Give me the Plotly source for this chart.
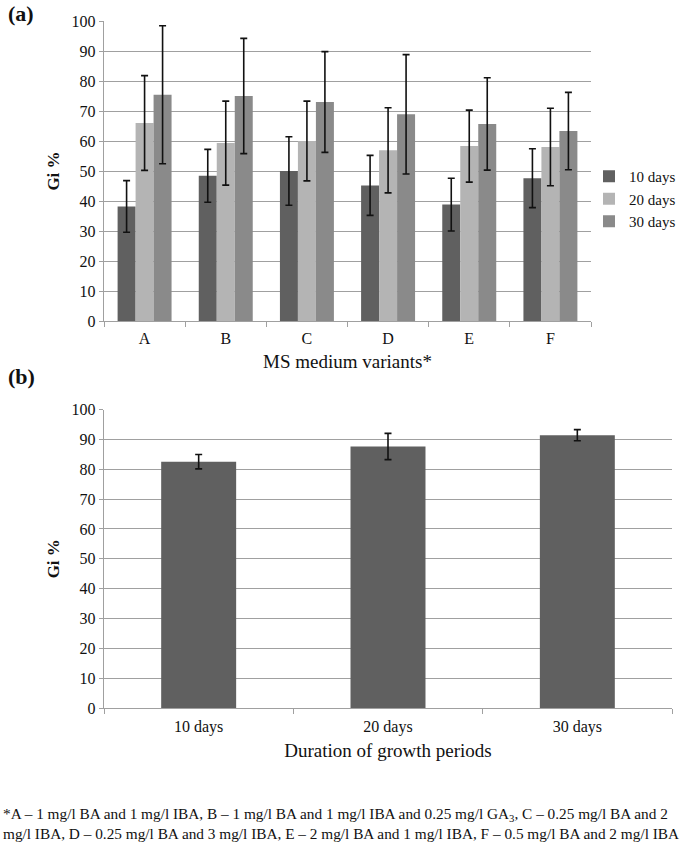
import plotly.graph_objects as go

# ---- data (panel a) ----
variants = ["A", "B", "C", "D", "E", "F"]
gi_10 = [38.2, 48.4, 50.0, 45.2, 38.8, 47.6]
err_10 = [8.6, 8.8, 11.4, 10.0, 8.8, 9.8]
gi_20 = [66.0, 59.3, 60.0, 56.9, 58.3, 58.0]
err_20 = [15.8, 14.0, 13.3, 14.2, 12.0, 12.9]
gi_30 = [75.4, 75.0, 73.0, 68.9, 65.7, 63.3]
err_30 = [23.0, 19.2, 16.8, 19.9, 15.4, 12.9]
series_names = ["10 days", "20 days", "30 days"]

# ---- data (panel b) ----
periods = ["10 days", "20 days", "30 days"]
gi_period = [82.5, 87.6, 91.4]
err_period = [2.4, 4.4, 1.85]

y_ticks = [0, 10, 20, 30, 40, 50, 60, 70, 80, 90, 100]

FONT = "Liberation Serif"
C10, C20, C30 = "#606060", "#b4b4b4", "#8a8a8a"
GRID = "#a0a0a0"

W, H = 685, 853
ML, MR, MT, MB = 104, 2, 21, 145
PW = W - ML - MR
PH = H - MT - MB


def px_x(x):
    return (x - ML) / PW


def px_y(y):
    return (H - MB - y) / PH


fig = go.Figure()

for name, vals, errs, col in [
    (series_names[0], gi_10, err_10, C10),
    (series_names[1], gi_20, err_20, C20),
    (series_names[2], gi_30, err_30, C30),
]:
    fig.add_trace(go.Bar(
        x=variants, y=vals, name=name, marker=dict(color=col, line=dict(width=0)),
        error_y=dict(type="data", array=errs, visible=True, color="#111111",
                     thickness=1.6, width=3.5),
        xaxis="x", yaxis="y",
    ))

fig.add_trace(go.Bar(
    x=periods, y=gi_period, name="Gi", showlegend=False, width=0.396,
    marker=dict(color=C10, line=dict(width=0)),
    error_y=dict(type="data", array=err_period, visible=True, color="#111111",
                 thickness=1.6, width=3.5),
    xaxis="x2", yaxis="y2",
))

axis_common = dict(showline=True, linecolor=GRID, linewidth=1.4,
                   tickfont=dict(family=FONT, size=16, color="#111111"))

fig.update_layout(
    width=W, height=H,
    margin=dict(l=ML, r=MR, t=MT, b=MB),
    paper_bgcolor="white", plot_bgcolor="white",
    font=dict(family=FONT, color="#111111"),
    barmode="group", bargap=0.335, bargroupgap=0,
    xaxis=dict(domain=[0, px_x(591)], anchor="y", ticks="outside",
               tickson="boundaries", ticklen=5, tickcolor=GRID, ticklabelstandoff=3,
               title=dict(text="MS medium variants*", font=dict(family=FONT, size=19),
                          standoff=8),
               **axis_common),
    yaxis=dict(domain=[px_y(321), 1], anchor="x", range=[0, 100],
               tickvals=y_ticks, ticks="outside", ticklen=4, tickcolor=GRID,
               showgrid=True, gridcolor=GRID, gridwidth=1.4, zeroline=False,
               title=dict(text="<b>Gi %</b>", font=dict(family=FONT, size=17),
                          standoff=7),
               **axis_common),
    xaxis2=dict(domain=[0, px_x(672)], anchor="y2", ticks="outside",
                tickson="boundaries", ticklen=5, tickcolor=GRID, ticklabelstandoff=4,
                title=dict(text="Duration of growth periods", font=dict(family=FONT, size=19),
                           standoff=8),
                **axis_common),
    yaxis2=dict(domain=[0, px_y(409.5)], anchor="x2", range=[0, 100],
                tickvals=y_ticks, ticks="outside", ticklen=4, tickcolor=GRID,
                showgrid=True, gridcolor=GRID, gridwidth=1.4, zeroline=False,
                title=dict(text="<b>Gi %</b>", font=dict(family=FONT, size=17),
                           standoff=7),
                **axis_common),
    legend=dict(x=px_x(589), y=px_y(199), xanchor="left", yanchor="middle",
                font=dict(family=FONT, size=15), bgcolor="rgba(0,0,0,0)",
                itemwidth=30, tracegroupgap=0),
    annotations=[
        dict(text="<b>(a)</b>", x=px_x(6), y=px_y(14), xref="paper", yref="paper",
             xanchor="left", yanchor="middle", showarrow=False,
             font=dict(family=FONT, size=22)),
        dict(text="<b>(b)</b>", x=px_x(6), y=px_y(377), xref="paper", yref="paper",
             xanchor="left", yanchor="middle", showarrow=False,
             font=dict(family=FONT, size=22)),
        dict(text="*A – 1 mg/l BA and 1 mg/l IBA, B – 1 mg/l BA and 1 mg/l IBA and 0.25 mg/l GA<sub>3</sub>, C – 0.25 mg/l BA and 2<br>"
                  "mg/l IBA, D – 0.25 mg/l BA and 3 mg/l IBA, E – 2 mg/l BA and 1 mg/l IBA, F – 0.5 mg/l BA and 2 mg/l IBA",
             x=px_x(1), y=px_y(823), xref="paper", yref="paper",
             xanchor="left", yanchor="middle", align="left", showarrow=False,
             font=dict(family=FONT, size=15.3)),
    ],
)

fig.write_html("out.html", config={"displayModeBar": False},
               post_script="document.body.style.margin='0';document.body.style.padding='0';")
